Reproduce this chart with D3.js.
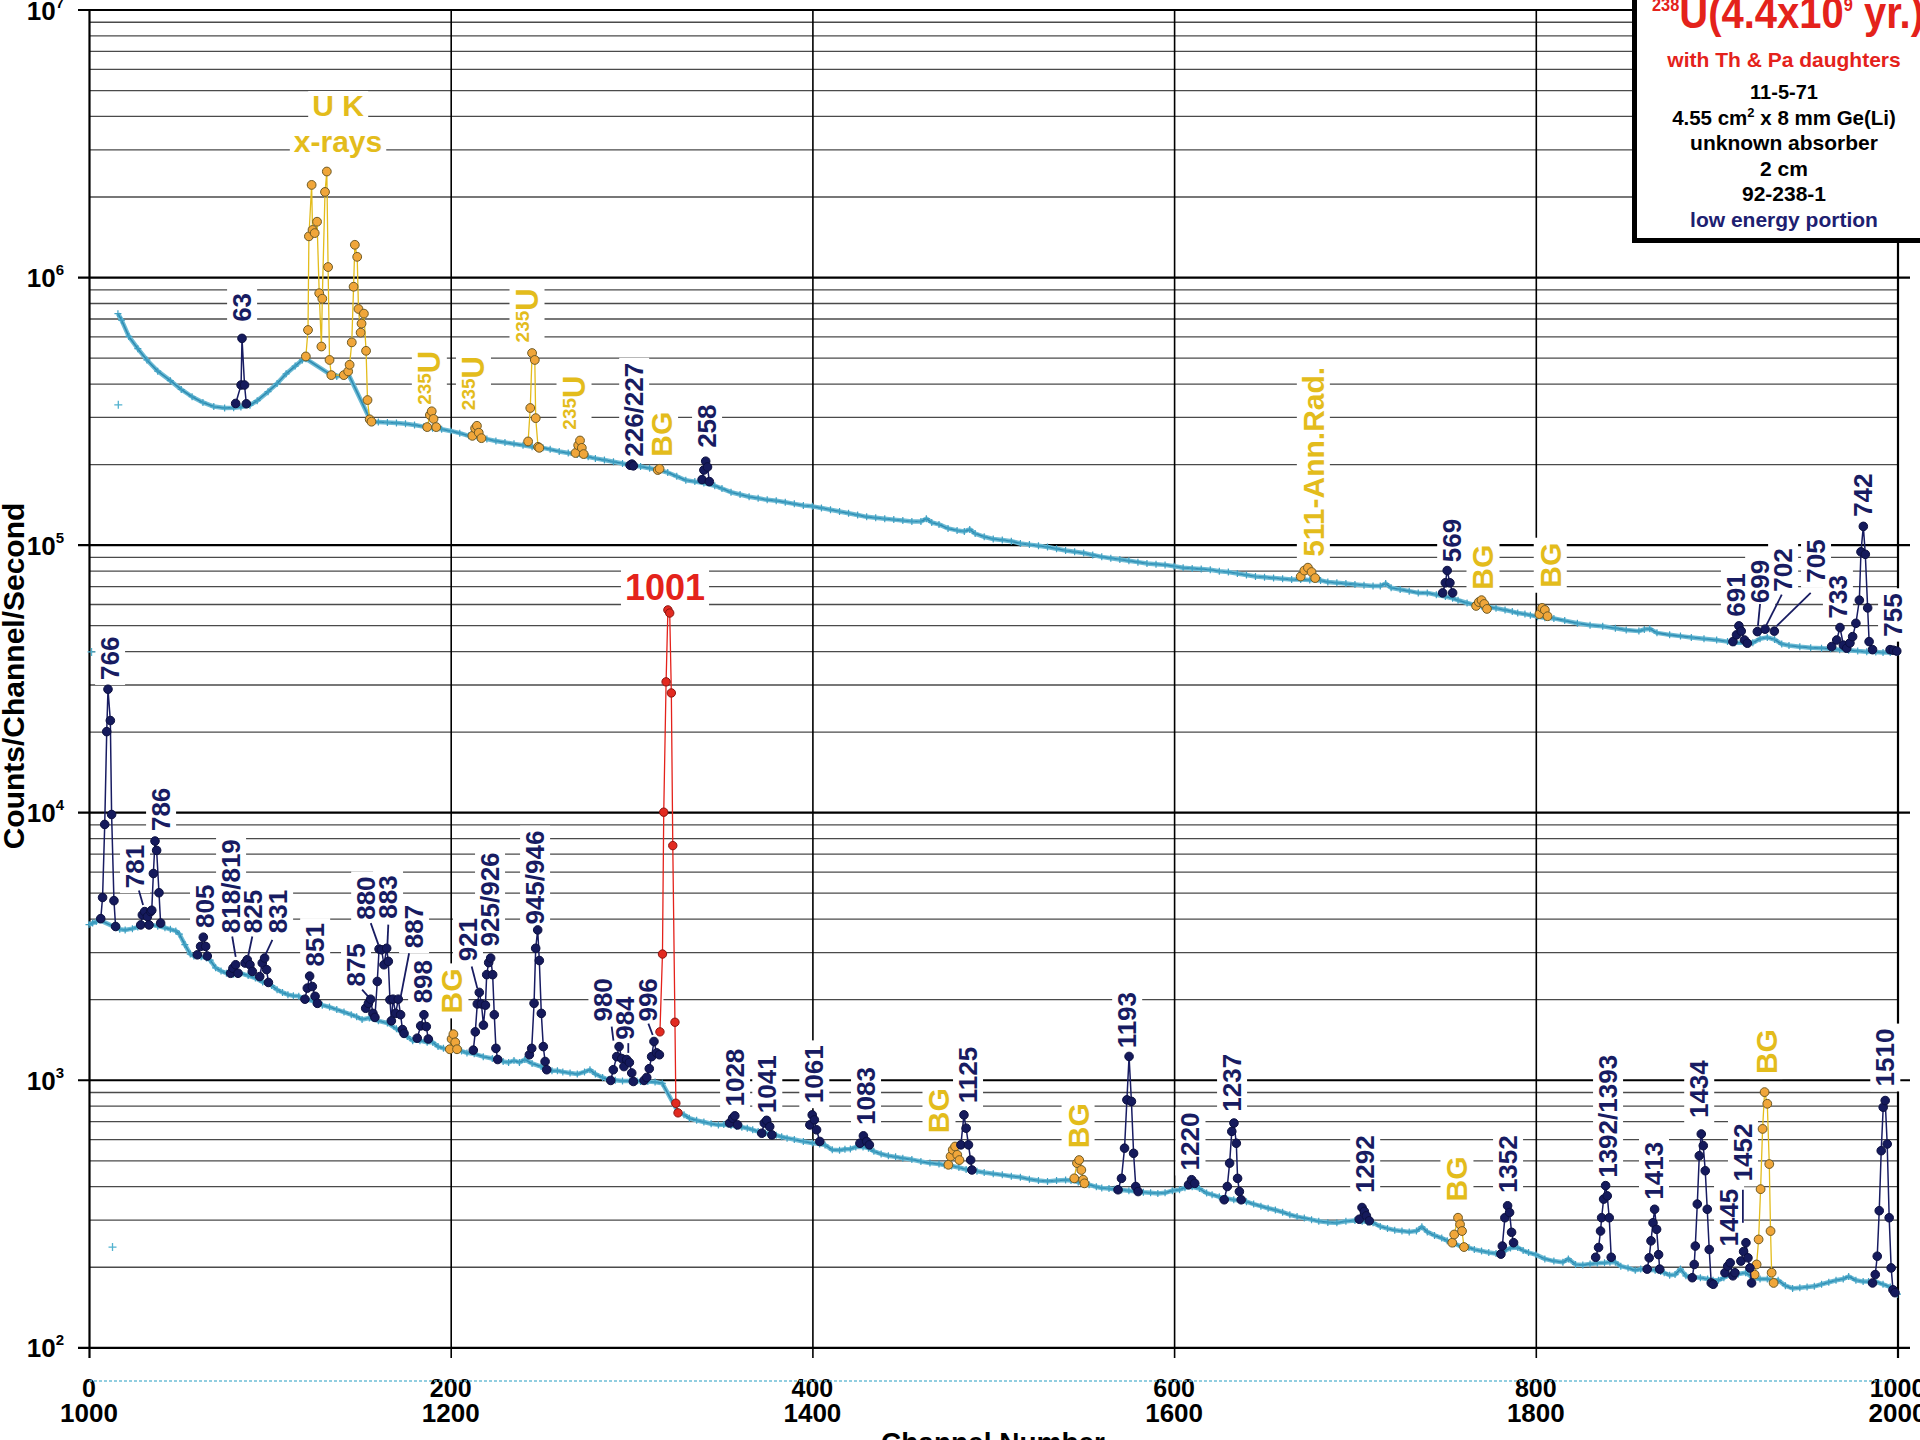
<!DOCTYPE html>
<html><head><meta charset="utf-8">
<script src="https://cdn.jsdelivr.net/npm/d3@7"></script>
<style>
html,body{margin:0;padding:0;background:#fff;}
svg{display:block;font-family:"Liberation Sans",Arial,Helvetica,sans-serif;font-weight:bold;}
</style></head><body>
<svg id="chart" width="1920" height="1440"></svg>
<script>
// ---------------- data ----------------
const xTicks = [0, 200, 400, 600, 800, 1000];
const xTickLabelsUpper = ["0", "200", "400", "600", "800", "1000"];
const xTickLabelsLower = ["1000", "1200", "1400", "1600", "1800", "2000"];
const yDecades = [2, 3, 4, 5, 6, 7];

// continuum, channels 0-1000 (upper trace): [channel, counts/s]
const upperContinuum = [
 [16,7.3e5],[18,6.9e5],[22,6.0e5],[27,5.4e5],[32,4.9e5],[38,4.45e5],[45,4.1e5],[51,3.8e5],[57,3.57e5],[63,3.4e5],
 [69,3.28e5],[75,3.24e5],[80,3.25e5],[84,3.27e5],[89,3.32e5],[93,3.45e5],[99,3.73e5],[104,4.0e5],[109,4.35e5],[114,4.65e5],
 [118,4.9e5],[120,4.95e5],[134,4.3e5],[137,4.25e5],[140,4.3e5],[143,4.4e5],[156,2.88e5],[160,2.87e5],[165,2.86e5],[170,2.85e5],
 [175,2.83e5],[180,2.8e5],[185,2.76e5],[190,2.72e5],[195,2.7e5],[200,2.66e5],[205,2.61e5],[210,2.55e5],[215,2.52e5],[220,2.48e5],
 [225,2.44e5],[230,2.41e5],[235,2.38e5],[240,2.35e5],[245,2.32e5],[251,2.3e5],[255,2.27e5],[260,2.23e5],[265,2.2e5],[270,2.17e5],
 [276,2.13e5],[280,2.1e5],[285,2.07e5],[290,2.04e5],[295,2.01e5],[300,1.98e5],[305,1.96e5],[310,1.93e5],[315,1.9e5],[320,1.86e5],
 [325,1.8e5],[330,1.74e5],[335,1.72e5],[340,1.7e5],[346,1.66e5],[350,1.62e5],[355,1.57e5],[360,1.54e5],[365,1.51e5],[370,1.49e5],
 [375,1.47e5],[380,1.46e5],[385,1.44e5],[390,1.42e5],[395,1.4e5],[400,1.39e5],[405,1.37e5],[410,1.35e5],[415,1.33e5],[420,1.31e5],
 [425,1.29e5],[430,1.27e5],[435,1.26e5],[440,1.25e5],[445,1.24e5],[450,1.23e5],[455,1.22e5],[460,1.22e5],[463,1.25e5],[466,1.21e5],
 [470,1.19e5],[475,1.15e5],[480,1.13e5],[484,1.12e5],[487,1.14e5],[490,1.1e5],[495,1.07e5],[500,1.05e5],[505,1.04e5],[510,1.03e5],
 [515,1.01e5],[520,1.0e5],[525,9.9e4],[530,9.8e4],[535,9.65e4],[540,9.5e4],[545,9.4e4],[550,9.3e4],[555,9.15e4],[560,9.0e4],
 [565,8.9e4],[570,8.8e4],[575,8.7e4],[580,8.6e4],[585,8.5e4],[590,8.45e4],[595,8.4e4],[600,8.3e4],[605,8.2e4],[610,8.15e4],
 [615,8.1e4],[620,8.05e4],[625,7.95e4],[630,7.9e4],[635,7.8e4],[640,7.7e4],[645,7.6e4],[650,7.55e4],[655,7.5e4],[660,7.45e4],
 [665,7.4e4],[670,7.4e4],[675,7.38e4],[681,7.35e4],[685,7.25e4],[690,7.2e4],[695,7.15e4],[700,7.1e4],[705,7.05e4],[710,7.0e4],
 [714,7.0e4],[717,7.15e4],[720,6.9e4],[725,6.8e4],[730,6.7e4],[735,6.6e4],[740,6.6e4],[745,6.5e4],[750,6.4e4],[754,6.3e4],
 [757,6.2e4],[762,6.05e4],[766,5.95e4],[770,5.9e4],[774,5.85e4],[778,5.78e4],[783,5.7e4],[787,5.62e4],[790,5.55e4],[794,5.5e4],
 [797,5.45e4],[801,5.38e4],[805,5.33e4],[810,5.3e4],[816,5.2e4],[823,5.08e4],[830,5.0e4],[837,4.95e4],[844,4.87e4],[850,4.8e4],
 [857,4.75e4],[860,4.82e4],[863,4.85e4],[867,4.68e4],[874,4.6e4],[880,4.55e4],[886,4.5e4],[893,4.45e4],[900,4.4e4],[906,4.34e4],
 [910,4.3e4],[915,4.3e4],[920,4.3e4],[924,4.45e4],[928,4.5e4],[932,4.42e4],[936,4.25e4],[940,4.2e4],[946,4.15e4],[952,4.12e4],
 [958,4.1e4],[963,4.08e4],[968,4.05e4],[973,4.03e4],[978,4.0e4],[983,3.98e4],[988,3.97e4],[992,3.95e4],[996,3.95e4],[1000,3.95e4]
];

// continuum, channels 1000-2000 (lower trace)
const lowerContinuum = [
 [1000,3.8e3],[1002,3.85e3],[1004,3.9e3],[1006,3.95e3],[1015,3.7e3],[1017,3.65e3],[1020,3.63e3],[1024,3.67e3],[1027,3.72e3],[1030,3.8e3],
 [1034,3.8e3],[1038,3.75e3],[1042,3.7e3],[1045,3.65e3],[1048,3.6e3],[1050,3.5e3],[1053,3.2e3],[1056,2.95e3],[1058,2.9e3],[1062,2.88e3],
 [1065,2.85e3],[1067,2.8e3],[1070,2.62e3],[1073,2.55e3],[1076,2.5e3],[1080,2.48e3],[1084,2.5e3],[1088,2.45e3],[1092,2.4e3],[1096,2.32e3],
 [1101,2.25e3],[1104,2.17e3],[1107,2.12e3],[1110,2.08e3],[1113,2.06e3],[1116,2.05e3],[1120,2.0e3],[1124,1.97e3],[1129,1.9e3],[1133,1.87e3],
 [1137,1.83e3],[1141,1.79e3],[1145,1.75e3],[1148,1.72e3],[1151,1.68e3],[1155,1.7e3],[1160,1.66e3],[1165,1.63e3],[1170,1.55e3],[1174,1.48e3],
 [1176,1.45e3],[1179,1.4e3],[1183,1.4e3],[1187,1.38e3],[1190,1.38e3],[1193,1.33e3],[1196,1.31e3],[1200,1.3e3],[1203,1.29e3],[1206,1.28e3],
 [1209,1.26e3],[1213,1.25e3],[1218,1.22e3],[1223,1.2e3],[1226,1.19e3],[1229,1.17e3],[1232,1.16e3],[1235,1.18e3],[1238,1.16e3],[1241,1.19e3],
 [1245,1.15e3],[1250,1.12e3],[1253,1.09e3],[1256,1.08e3],[1259,1.08e3],[1262,1.07e3],[1266,1.06e3],[1270,1.05e3],[1274,1.07e3],[1277,1.09e3],
 [1280,1.05e3],[1284,1.02e3],[1287,1.0e3],[1291,995],[1295,990],[1299,990],[1303,990],[1305,985],[1309,985],[1313,980],
 [1317,970],[1326,752],[1329,740],[1332,718],[1336,705],[1340,695],[1344,685],[1348,678],[1351,680],[1355,675],
 [1358,668],[1361,665],[1364,659],[1367,650],[1370,640],[1374,632],[1377,625],[1380,620],[1383,612],[1386,605],
 [1390,598],[1395,588],[1400,580],[1404,575],[1407,570],[1411,547],[1415,545],[1418,550],[1421,551],[1424,560],
 [1428,560],[1431,555],[1434,540],[1438,528],[1442,520],[1446,515],[1450,509],[1455,503],[1460,495],[1465,488],
 [1470,484],[1473,480],[1477,476],[1481,470],[1485,462],[1488,458],[1491,455],[1495,450],[1500,445],[1505,441],
 [1510,436],[1515,432],[1520,425],[1525,420],[1530,417],[1535,420],[1540,422],[1543,420],[1547,415],[1550,410],
 [1553,405],[1557,398],[1560,394],[1564,392],[1567,390],[1571,387],[1575,385],[1579,383],[1583,380],[1587,378],
 [1591,376],[1595,378],[1599,385],[1603,388],[1606,395],[1610,398],[1614,392],[1618,377],[1621,372],[1625,365],
 [1629,360],[1633,356],[1637,353],[1640,350],[1644,343],[1648,337],[1652,331],[1656,326],[1660,320],[1664,313],
 [1668,308],[1672,304],[1676,300],[1680,296],[1685,293],[1690,292],[1695,296],[1700,298],[1704,296],[1707,294],
 [1710,292],[1714,283],[1718,278],[1722,274],[1726,272],[1730,270],[1734,272],[1737,282],[1740,270],[1744,262],
 [1748,256],[1751,250],[1755,244],[1759,238],[1763,236],[1766,232],[1770,229],[1774,226],[1778,224],[1782,228],
 [1786,235],[1790,236],[1793,230],[1796,226],[1800,222],[1805,214],[1810,210],[1815,208],[1818,214],[1822,204],
 [1826,203],[1830,205],[1834,206],[1838,207],[1841,208],[1844,208],[1847,201],[1851,198],[1855,194],[1858,196],
 [1862,195],[1866,194],[1869,192],[1871,190],[1874,186],[1877,187],[1880,196],[1883,185],[1887,183],[1891,182],
 [1895,180],[1898,178],[1901,178],[1904,182],[1908,188],[1912,188],[1916,190],[1920,182],[1924,180],[1928,180],
 [1931,178],[1934,178],[1938,170],[1942,166],[1946,167],[1950,168],[1954,169],[1958,172],[1962,175],[1966,178],
 [1970,180],[1973,184],[1977,178],[1981,176],[1984,176],[1988,176],[1992,172],[1996,168],[2000,158]
];

// isolated stray counts
const strayUpper = [[16.2, 3.33e5]];
const strayLower = [[1001.4, 3.97e4], [1013, 237]];

// identified gamma lines, upper trace
const upperLines = [
 [[81.1,3.37e5],[84.1,3.95e5],[84.6,5.9e5],[86.0,3.95e5],[87.0,3.36e5]],
 [[299.2,1.98e5],[300.2,2.0e5],[301,1.97e5]],
 [[339,1.75e5],[340,1.9e5],[341,2.05e5],[342,1.95e5],[343,1.72e5]],
 [[748.5,6.6e4],[750,7.2e4],[751,8.0e4],[752.5,7.2e4],[754,6.6e4]],
 [[909,4.34e4],[911,4.6e4],[912.3,4.97e4],[913.6,4.75e4],[915.4,4.4e4],[917,4.28e4]],
 [[922.5,4.73e4]],
 [[926.8,4.83e4]],
 [[931.9,4.75e4]],
 [[963.6,4.16e4],[966.4,4.4e4],[968.2,4.9e4],[970.1,4.21e4],[971.9,4.1e4],[973.7,4.29e4],[975.2,4.53e4],[977,5.08e4],
  [978.9,6.2e4],[979.8,9.4e4],[981.1,1.17e5],[982.2,9.2e4],[983.5,5.8e4],[984.3,4.34e4],[986.2,4.05e4]],
 [[995.9,4.05e4],[997.7,4.03e4],[999.6,4.0e4]]
];

// x-ray, 235U, annihilation and background lines, upper trace
const upperBackground = [
 [[119.9,5.05e5],[121.1,6.34e5],[121.6,1.42e6],[123.1,2.21e6],[123.6,1.5e6],[124.8,1.46e6],[126.1,1.61e6],[127.3,8.7e5],
  [128.5,5.5e5],[129.0,8.3e5],[130.5,2.08e6],[131.5,2.48e6],[132.2,1.09e6],[133.0,4.9e5],[134.0,4.3e5],[140.9,4.3e5],
  [143.3,4.44e5],[144.1,4.7e5],[145.3,5.7e5],[146.3,9.2e5],[147.0,1.32e6],[148.3,1.19e6],[149.0,7.6e5],[150.2,6.2e5],
  [150.7,6.7e5],[152.0,7.3e5],[153.2,5.3e5],[154.0,3.47e5],[155.2,2.94e5],[156.2,2.88e5]],
 [[187,2.75e5],[188.5,3.05e5],[189.5,3.15e5],[190.5,2.95e5],[192,2.75e5]],
 [[212,2.55e5],[213.5,2.72e5],[214.5,2.78e5],[215.5,2.62e5],[217,2.5e5]],
 [[242.8,2.43e5],[244,3.24e5],[245,5.2e5],[246.5,4.9e5],[247,2.97e5],[248.3,2.32e5],[249,2.3e5]],
 [[269,2.2e5],[270.5,2.35e5],[271.5,2.45e5],[272.5,2.3e5],[273.5,2.18e5]],
 [[314.5,1.9e5],[315.5,1.92e5]],
 [[670,7.6e4],[672,8.0e4],[674,8.2e4],[676,7.9e4],[678,7.5e4]],
 [[767,5.9e4],[768.5,6.1e4],[770,6.2e4],[771.5,6.0e4],[773,5.75e4]],
 [[802,5.5e4],[803.5,5.8e4],[805,5.7e4],[806.5,5.4e4]]
];

// identified gamma lines, lower trace
const lowerLines = [
 [[1006.5,4.0e3],[1007.5,4.8e3],[1008.7,9.0e3],[1009.8,2.0e4],[1010.5,2.88e4],[1011.8,2.2e4],[1012.5,9.8e3],[1013.8,4.67e3],[1014.7,3.74e3]],
 [[1028.6,3.79e3],[1029.5,4.13e3],[1030.8,4.25e3],[1032.3,4.07e3],[1033.2,3.79e3],[1034.1,4.25e3],[1034.7,4.3e3],[1035.6,5.9e3],
  [1036.5,7.8e3],[1037.4,7.2e3],[1038.7,5.0e3],[1039.6,3.85e3]],
 [[1059.9,2.93e3],[1061.7,3.15e3],[1063.2,3.41e3],[1064.5,3.15e3],[1065.4,2.9e3]],
 [[1078.3,2.5e3],[1079.6,2.61e3],[1081.1,2.69e3],[1082.4,2.5e3]],
 [[1086.3,2.73e3],[1087.5,2.81e3],[1089,2.69e3],[1090.3,2.54e3]],
 [[1094.4,2.43e3],[1095.8,2.73e3],[1097.1,2.85e3],[1098.2,2.58e3],[1099.2,2.31e3]],
 [[1119.4,2.0e3],[1120.7,2.2e3],[1122,2.44e3],[1123.5,2.23e3],[1125,2.05e3],[1126.3,1.93e3]],
 [[1153,1.85e3],[1154.5,1.93e3],[1155.7,2.0e3],[1157,1.77e3],[1158.1,1.71e3],[1159.4,2.33e3],[1160.4,3.08e3],[1161.8,3.06e3],
  [1163.1,2.69e3],[1164.6,3.1e3],[1165.5,2.77e3],[1166.4,1.99e3],[1167.2,1.66e3],[1168.1,2.0e3],[1169.6,1.77e3],[1171,2.0e3],
  [1172.3,1.75e3],[1173.3,1.54e3],[1174.2,1.49e3]],
 [[1181.5,1.43e3],[1183.4,1.59e3],[1185.2,1.75e3],[1186.5,1.58e3],[1187.6,1.42e3]],
 [[1212.5,1.29e3],[1213.6,1.51e3],[1214.7,1.92e3],[1215.8,2.12e3],[1217,1.92e3],[1218.1,1.6e3],[1219.2,1.9e3],[1219.9,2.47e3],
  [1221,2.74e3],[1222.1,2.85e3],[1223.2,2.47e3],[1224.1,1.75e3],[1225,1.31e3],[1226,1.19e3]],
 [[1243.5,1.24e3],[1244.8,1.31e3],[1246.1,1.93e3],[1247,3.1e3],[1248.1,3.63e3],[1249,2.79e3],[1250.1,1.77e3],[1251.2,1.33e3],
  [1252.2,1.17e3],[1253.1,1.09e3]],
 [[1288.5,994],[1289.9,1.09e3],[1291.8,1.22e3],[1293.1,1.33e3],[1294.6,1.2e3],[1295.8,1.12e3],[1297.3,1.19e3],[1298.8,1.16e3],
  [1300.1,1.06e3],[1301,985]],
 [[1306.9,994],[1308.4,1.02e3],[1309.8,1.1e3],[1311.1,1.22e3],[1312.4,1.39e3],[1313.9,1.26e3],[1315.4,1.24e3]],
 [[1354.2,689],[1355.9,718],[1357.1,733],[1358.6,678]],
 [[1372,631],[1373.4,689],[1374.7,705],[1376.4,668],[1377.6,622]],
 [[1398.6,678],[1399.9,739],[1401.1,708],[1402.3,650],[1404.1,588]],
 [[1426.3,579],[1428.2,617],[1430,588],[1431.5,571]],
 [[1482.1,571],[1483.8,739],[1485,659],[1486.3,571],[1487.5,501],[1488.2,460]],
 [[1569,388],[1570.9,428],[1572.6,555],[1573.9,841],[1575.1,1222],[1576.4,830],[1577.6,531],[1578.8,399],[1580.1,382]],
 [[1608,405],[1609.7,423],[1611.4,410]],
 [[1627.7,356],[1629.4,399],[1630.7,488],[1631.9,641],[1633.1,689],[1634.4,579],[1635.1,428],[1636.1,382],[1637.1,356]],
 [[1702.4,301],[1703.9,333],[1705.2,322],[1706.3,310],[1707.9,297]],
 [[1780.7,223],[1781.5,239],[1782.9,305],[1784.4,338],[1785.5,319],[1786.6,269],[1787.7,246]],
 [[1833.1,217],[1834.7,236],[1835.8,272],[1836.4,305],[1837.5,358],[1838.6,402],[1839.5,368],[1840.6,305],[1841.7,217]],
 [[1861.6,196],[1862.7,216],[1863.7,250],[1864.8,292],[1865.7,328],[1866.8,276],[1867.9,222],[1868.5,196]],
 [[1886.5,182],[1887.6,204],[1888.2,239],[1889.3,343],[1890.4,520],[1891.5,627],[1892.6,567],[1893.7,457],[1894.8,328],
  [1895.9,232],[1897,174],[1898.1,172]],
 [[1904.6,190],[1906.1,201],[1907.5,207],[1909,185],[1910.1,190]],
 [[1913.4,210],[1914.9,228],[1916.2,246],[1917.3,216],[1918.4,198],[1919.3,174]],
 [[1986.2,174],[1987.7,187],[1988.8,219],[1989.9,324],[1991,543],[1992.1,789],[1993.2,836],[1994.3,575],[1995.4,305],
  [1996.5,198],[1997.5,164],[1998.6,160]]
];

// background lines, lower trace
const lowerBackground = [
 [[1199.5,1.3e3],[1200.5,1.42e3],[1201.5,1.48e3],[1202.5,1.38e3],[1203.5,1.3e3]],
 [[1475.2,481],[1476.4,517],[1477.6,547],[1478.9,563],[1480.1,524],[1481.3,501]],
 [[1544.8,428],[1546.3,488],[1547.5,501],[1548.7,460],[1549.7,423],[1550.4,410]],
 [[1753.8,246],[1754.9,264],[1757,305],[1758.1,288],[1759.2,272],[1760.3,237]],
 [[1921,187],[1922.1,204],[1923.2,253],[1924.3,390],[1925.4,655],[1926.5,899],[1928,813],[1929.1,484],[1929.8,272],
  [1930.4,190],[1931.5,174]]
];

// the 1001 keV line
const line1001 = [[1315.7,1.51e3],[1317.1,2.95e3],[1317.8,1.0e4],[1319.1,3.07e4],[1320.1,5.7e4],[1321.1,5.55e4],
 [1322,2.79e4],[1322.8,7.5e3],[1324,1.64e3],[1324.5,817],[1325.7,752]];

// peak labels: [text, channel, counts at label start, kind]
const upperLabels = [
 ["63",84.6,6.8e5,"id"],["235U",194,3.33e5,"iso"],["235U",218.4,3.18e5,"iso"],["235U",248,5.7e5,"iso"],
 ["235U",274,2.69e5,"iso"],["226/227",301.4,2.13e5,"id"],["BG",316.6,2.13e5,"bg"],["258",341.7,2.3e5,"id"],
 ["511-Ann.Rad.",677,9.0e4,"bg"],["569",753.7,8.6e4,"id"],["BG",770.8,6.78e4,"bg"],["BG",808,6.9e4,"bg"],
 ["691",910.6,5.38e4,"id"],["699",924,6.04e4,"id"],["702",936.7,6.67e4,"id"],["705",954.9,7.2e4,"id"],
 ["733",967,5.3e4,"id"],["742",981,1.27e5,"id"],["755",997.5,4.53e4,"id"]
];
const lowerLabels = [
 ["766",1011.6,3.12e4,"id"],["781",1025.4,5.2e3,"id"],["786",1039.8,8.5e3,"id"],["805",1064.1,3.69e3,"id"],
 ["818/819",1078.5,3.53e3,"id"],["825",1090.7,3.53e3,"id"],["831",1104.5,3.53e3,"id"],["851",1125,2.65e3,"id"],
 ["875",1147.6,2.23e3,"id"],["880",1153.2,3.96e3,"id"],["883",1165.3,4.0e3,"id"],["887",1179.7,3.1e3,"id"],
 ["898",1184.7,1.93e3,"id"],["BG",1200.7,1.77e3,"bg"],["921",1209.5,2.77e3,"id"],["925/926",1221.7,3.15e3,"id"],
 ["945/946",1246.6,3.8e3,"id"],["980",1284.4,1.65e3,"id"],["984",1296.4,1.41e3,"id"],["996",1309.3,1.65e3,"id"],
 ["1028",1357.2,794,"id"],["1041",1375,750,"id"],["1061",1401,817,"id"],["1083",1429.6,678,"id"],
 ["BG",1470,631,"bg"],["1125",1486,817,"id"],["BG",1546.9,555,"bg"],["1193",1574,1.31e3,"id"],
 ["1220",1609,458,"id"],["1237",1632,760,"id"],["1292",1705.6,377,"id"],["BG",1756.4,351,"bg"],
 ["1352",1784.6,377,"id"],["1392/1393",1839.9,430,"id"],["1413",1865.3,356,"id"],["1434",1890.3,719,"id"],
 ["1445",1906.8,238,"id"],["1452",1914.5,417,"id"],["BG",1927.3,1.05e3,"bg"],["1510",1993.2,944,"id"]
];
const xrayLabel = [["U K", 137.7, 4.0e6], ["x-rays", 137.7, 2.93e6]];
const mainLabel = ["1001", 1318.5, 6.2e4];

// leader lines: [ch1, counts1, ch2, counts2]
const upperLeaders = [[924,6.0e4,922.8,4.95e4],[936,6.5e4,927.5,5.0e4],[952,6.6e4,933,4.95e4]];
const lowerLeaders = [
 [1027.6,5.1e3,1029.9,4.5e3],[1079.2,3.43e3,1081.1,2.88e3],[1090.3,3.43e3,1088.1,2.92e3],[1101.4,3.33e3,1097.7,2.95e3],
 [1151,2.17e3,1154.3,2.05e3],[1155.8,3.85e3,1160,3.2e3],[1165.5,3.8e3,1165,3.2e3],[1177,2.97e3,1172.4,2.05e3],
 [1211.6,2.65e3,1214.7,2.2e3],[1289,1.58e3,1290,1.4e3],[1298.2,1.37e3,1298.2,1.26e3],[1309.3,1.62e3,1311.7,1.47e3],
 [1914.5,388,1914.5,292]
];

// ---------------- drawing ----------------
const W = 1920, H = 1440;
const plot = {left: 89, right: 1897.5, top: 9.5, bottom: 1347.3, tickBottom: 1358};
const NAVY = "#181c62", GOLD = "#e3bc1c", RED = "#e4221b";

const xU = d3.scaleLinear().domain([0, 1000]).range([plot.left, plot.right]);
const xL = d3.scaleLinear().domain([1000, 2000]).range([plot.left, plot.right]);
const y = d3.scaleLog().domain([1e2, 1e7]).range([plot.bottom, plot.top]);

const svg = d3.select("#chart");
svg.append("rect").attr("width", W).attr("height", H).attr("fill", "#fff");

const gGrid = svg.append("g");
const gLabelBg = svg.append("g");
const gData = svg.append("g");
const gLabels = svg.append("g");
const gBox = svg.append("g");

// minor horizontal grid (2..9 x 10^n)
const minors = [];
yDecades.slice(0, -1).forEach(e => { for (let m = 2; m <= 9; m++) minors.push(m * Math.pow(10, e)); });
gGrid.append("g").attr("transform", `translate(${plot.left},0)`)
  .call(d3.axisLeft(y).tickValues(minors).tickSize(-(plot.right - plot.left)).tickFormat(""))
  .call(g => g.select(".domain").remove())
  .call(g => g.selectAll("line").attr("stroke", "#4a4a4a").attr("stroke-width", 1.3));

// major horizontal grid (decades), extending past both sides
const majors = yDecades.map(e => Math.pow(10, e));
gGrid.append("g").attr("transform", `translate(1910,0)`)
  .call(d3.axisLeft(y).tickValues(majors).tickSize(1910 - 78).tickFormat(""))
  .call(g => g.select(".domain").remove())
  .call(g => g.selectAll("line").attr("stroke", "#000").attr("stroke-width", 2.2));

// vertical grid every 200 channels, with ticks below the plot
gGrid.append("g").attr("transform", `translate(0,${plot.tickBottom})`)
  .call(d3.axisBottom(xU).tickValues(xTicks).tickSize(-(plot.tickBottom - plot.top)).tickFormat(""))
  .call(g => g.select(".domain").remove())
  .call(g => g.selectAll("line").attr("stroke", "#000").attr("stroke-width", (d) => (d === 0 || d === 1000) ? 2.2 : 1.6));

// y tick labels 10^n
const yLab = gGrid.append("g").selectAll("text").data(yDecades).join("text")
  .attr("x", 64).attr("y", e => y(Math.pow(10, e)) + 10)
  .attr("text-anchor", "end").attr("fill", "#000").attr("font-size", 26);
yLab.append("tspan").text("10");
yLab.append("tspan").text(e => e).attr("font-size", 15).attr("dy", -12);

// x tick labels, channel numbers for both traces
const xl = gGrid.append("g").selectAll("g").data(xTicks).join("g")
  .attr("transform", d => `translate(${xU(d)},0)`);
xl.append("text").attr("y", 1397).attr("text-anchor", "middle").attr("font-size", 25)
  .text((d, i) => xTickLabelsUpper[i]);
xl.append("text").attr("y", 1422).attr("text-anchor", "middle").attr("font-size", 26)
  .text((d, i) => xTickLabelsLower[i]);

// zero-count baseline below the plot
gGrid.append("line").attr("x1", plot.left).attr("x2", plot.right).attr("y1", 1381).attr("y2", 1381)
  .attr("stroke", "#6fbfd6").attr("stroke-width", 1.4).attr("stroke-dasharray", "3,2");

// axis titles
gGrid.append("text").attr("transform", `translate(24,676) rotate(-90)`).attr("text-anchor", "middle")
  .attr("font-size", 30).text("Counts/Channel/Second");
gGrid.append("text").attr("x", 993).attr("y", 1452).attr("text-anchor", "middle")
  .attr("font-size", 28).text("Channel Number");

// continuum: a teal band with cross markers
function drawContinuum(data, xs) {
  const line = d3.line().x(d => xs(d[0])).y(d => y(d[1]));
  gData.append("path").datum(data).attr("d", line).attr("fill", "none")
    .attr("stroke", "#6dbbd4").attr("stroke-width", 4.5).attr("stroke-linejoin", "round");
  gData.append("path").datum(data).attr("d", line).attr("fill", "none")
    .attr("stroke", "#2f8cb3").attr("stroke-width", 1.6).attr("stroke-linejoin", "round");
  gData.append("g").selectAll("path").data(data).join("path")
    .attr("transform", d => `translate(${xs(d[0])},${y(d[1])})`)
    .attr("d", "M-3.5,0H3.5M0,-3.5V3.5").attr("stroke", "#3f9fc2").attr("stroke-width", 1.2);
}
drawContinuum(upperContinuum, xU);
drawContinuum(lowerContinuum, xL);
function drawStray(data, xs) {
  gData.append("g").selectAll("path").data(data).join("path")
    .attr("transform", d => `translate(${xs(d[0])},${y(d[1])})`)
    .attr("d", "M-4,0H4M0,-4V4").attr("stroke", "#52b2cf").attr("stroke-width", 1.3);
}
drawStray(strayUpper, xU);
drawStray(strayLower, xL);

// peaks: connecting line + filled markers
function drawPeaks(series, xs, lineColor, fill, stroke, r, lw) {
  const line = d3.line().x(d => xs(d[0])).y(d => y(d[1]));
  const g = gData.append("g");
  g.selectAll("path").data(series).join("path").attr("d", line)
    .attr("fill", "none").attr("stroke", lineColor).attr("stroke-width", lw);
  g.selectAll("g").data(series).join("g").selectAll("circle").data(d => d).join("circle")
    .attr("cx", d => xs(d[0])).attr("cy", d => y(d[1])).attr("r", r)
    .attr("fill", fill).attr("stroke", stroke).attr("stroke-width", 1);
}
drawPeaks(upperBackground, xU, GOLD, "#f0a63a", "#6e5a24", 4.4, 1.3);
drawPeaks(lowerBackground, xL, GOLD, "#f0a63a", "#6e5a24", 4.4, 1.3);
drawPeaks(upperLines, xU, NAVY, "#151a5c", "#0c1040", 4.3, 1.5);
drawPeaks(lowerLines, xL, NAVY, "#151a5c", "#0c1040", 4.3, 1.5);
drawPeaks([line1001], xL, RED, "#e22a20", "#8e1410", 4.2, 1.3);

// leader lines
function drawLeaders(data, xs) {
  gLabels.append("g").selectAll("line").data(data).join("line")
    .attr("x1", d => xs(d[0])).attr("y1", d => y(d[1]))
    .attr("x2", d => xs(d[2])).attr("y2", d => y(d[3]))
    .attr("stroke", NAVY).attr("stroke-width", 1.8);
}
drawLeaders(upperLeaders, xU);
drawLeaders(lowerLeaders, xL);

// white box behind a label so the grid is interrupted
function backing(textSel, transform, padAlong, padAcross) {
  const bb = textSel.node().getBBox();
  gLabelBg.append("rect").attr("transform", transform)
    .attr("x", bb.x - padAlong).attr("y", bb.y - padAcross)
    .attr("width", bb.width + 2 * padAlong).attr("height", bb.height + 2 * padAcross)
    .attr("fill", "#fff");
}

// rotated peak labels
function drawRotLabels(labels, xs) {
  labels.forEach(([text, ch, v, kind]) => {
    const tr = `translate(${xs(ch)},${y(v)}) rotate(-90)`;
    const t = gLabels.append("text").attr("transform", tr).attr("dy", "0.35em");
    if (kind === "iso") {
      t.attr("fill", GOLD).attr("font-size", 31);
      t.append("tspan").text(text.slice(0, 3)).attr("font-size", 19).attr("dy", -9);
      t.append("tspan").text(text.slice(3)).attr("dy", 9);
    } else if (kind === "bg") {
      t.attr("fill", GOLD).attr("font-size", 30).text(text);
    } else {
      t.attr("fill", NAVY).attr("font-size", 26).text(text);
    }
    backing(t, tr, 5, 0);
  });
}
drawRotLabels(upperLabels, xU);
drawRotLabels(lowerLabels, xL);

// horizontal labels
xrayLabel.forEach(([text, ch, v]) => {
  const t = gLabels.append("text").attr("x", xU(ch)).attr("y", y(v)).attr("text-anchor", "middle")
    .attr("fill", GOLD).attr("font-size", 30).text(text);
  backing(t, null, 4, -2);
});
{
  const [text, ch, v] = mainLabel;
  const t = gLabels.append("text").attr("x", xL(ch)).attr("y", y(v)).attr("text-anchor", "middle")
    .attr("fill", RED).attr("font-size", 36).text(text);
  backing(t, null, 4, -2);
}

// info box
gBox.append("rect").attr("x", 1634.5).attr("y", -10).attr("width", 300).attr("height", 250.5)
  .attr("fill", "#fff").attr("stroke", "#000").attr("stroke-width", 5);
const title = gBox.append("text").attr("x", 1652).attr("y", 28).attr("fill", RED).attr("font-size", 44)
  .attr("textLength", 272).attr("lengthAdjust", "spacingAndGlyphs");
title.append("tspan").text("238").attr("font-size", 18).attr("dy", -17);
title.append("tspan").text("U(4.4x10").attr("dy", 17);
title.append("tspan").text("9").attr("font-size", 18).attr("dy", -17);
title.append("tspan").text(" yr.)").attr("dy", 17);
const cx = 1784;
gBox.append("text").attr("x", cx).attr("y", 67).attr("text-anchor", "middle").attr("fill", RED)
  .attr("font-size", 21).text("with Th & Pa daughters");
gBox.append("text").attr("x", cx).attr("y", 99).attr("text-anchor", "middle").attr("font-size", 20).text("11-5-71");
const det = gBox.append("text").attr("x", cx).attr("y", 124.5).attr("text-anchor", "middle").attr("font-size", 20.5);
det.append("tspan").text("4.55 cm");
det.append("tspan").text("2").attr("font-size", 13).attr("dy", -8);
det.append("tspan").text(" x 8 mm Ge(Li)").attr("dy", 8);
gBox.append("text").attr("x", cx).attr("y", 150).attr("text-anchor", "middle").attr("font-size", 21).text("unknown absorber");
gBox.append("text").attr("x", cx).attr("y", 175.5).attr("text-anchor", "middle").attr("font-size", 21).text("2 cm");
gBox.append("text").attr("x", cx).attr("y", 201).attr("text-anchor", "middle").attr("font-size", 21).text("92-238-1");
gBox.append("text").attr("x", cx).attr("y", 226.5).attr("text-anchor", "middle").attr("fill", "#1d2070")
  .attr("font-size", 21).text("low energy portion");
</script>
</body></html>
